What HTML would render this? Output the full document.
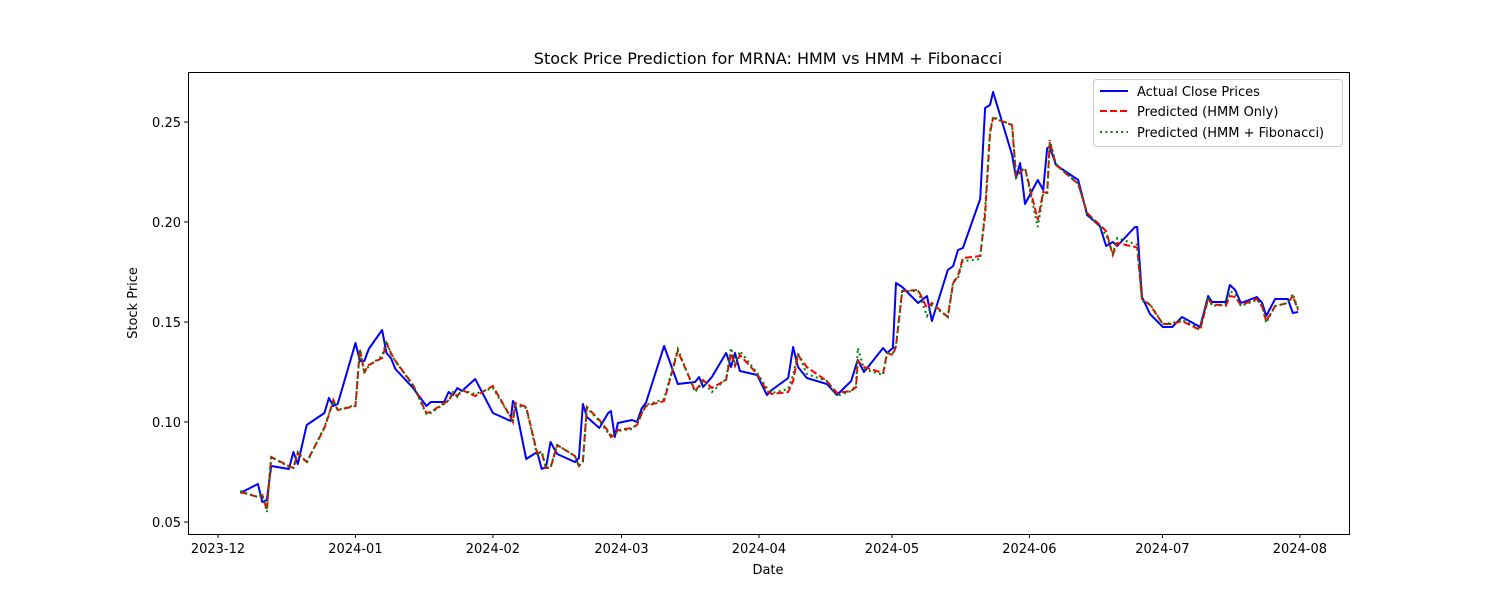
<!DOCTYPE html>
<html><head><meta charset="utf-8"><style>
body{margin:0;background:#fff;font-family:"DejaVu Sans","Liberation Sans",sans-serif}
svg text{font-family:"DejaVu Sans","Liberation Sans",sans-serif;fill:#000}
</style></head><body>
<svg id="chart" width="1500" height="600" xmlns="http://www.w3.org/2000/svg">
<rect width="1500" height="600" fill="#fff"/>
<text x="768" y="64" font-size="16" text-anchor="middle">Stock Price Prediction for MRNA: HMM vs HMM + Fibonacci</text>
<g id="plot"></g>
<rect x="188.5" y="72.5" width="1161" height="462" fill="none" stroke="#000" stroke-width="1"/>
<text x="768" y="574" font-size="13" text-anchor="middle">Date</text>
<text transform="translate(137,303) rotate(-90)" font-size="13" text-anchor="middle">Stock Price</text>
<g>
<rect x="1093.5" y="79.5" width="249" height="67" rx="3" fill="#fff" fill-opacity="0.8" stroke="#ccc"/>
<line x1="1100" y1="91" x2="1128" y2="91" stroke="#0000ff" stroke-width="2"/>
<text x="1137" y="96" font-size="13">Actual Close Prices</text>
<line x1="1100" y1="111" x2="1128" y2="111" stroke="#ff0000" stroke-width="2" stroke-dasharray="7,3"/>
<text x="1137" y="116" font-size="13">Predicted (HMM Only)</text>
<line x1="1100" y1="132" x2="1128" y2="132" stroke="#008000" stroke-width="2" stroke-dasharray="2,3.3"/>
<text x="1137" y="137" font-size="13">Predicted (HMM + Fibonacci)</text>
</g>
</svg>
<script>
// days since 2023-12-01
const days=[5,9,10,11,12,16,17,18,20,24,25,26,27,31,32,33,34,37,38,39,40,44,47,48,51,52,53,54,55,58,62,66,66.5,67,69.5,72,73,74,75,76.5,80.5,81.4,82.3,83.2,86,88,88.6,89.5,90.2,93.4,94.5,95.6,96.5,100.6,103.7,107.6,108.5,109.4,111.4,114.6,115.7,116.6,117.7,121.6,123.8,124.9,128.6,129.7,130.8,132.8,137.3,139.6,142.8,143.9,144.3,145.7,150,150.9,152.2,152.9,154.3,157.9,159.9,161,164.6,165.8,166.9,168,171.9,173,174.1,174.8,179.1,180,180.9,182,184.9,186.1,187,187.6,189,194,196,198.9,200.3,201.8,202.8,206.8,207.3,208.4,210.2,213.1,215.2,217.4,221.5,223.3,224.2,227.3,228.2,229.4,230.7,234.3,235.5,236.4,238.4,241.3,242.4,243.6];
const actual=[0.0645,0.069,0.060,0.061,0.078,0.0765,0.085,0.079,0.0985,0.1045,0.112,0.108,0.109,0.1395,0.1305,0.1305,0.1365,0.146,0.1345,0.132,0.1265,0.117,0.108,0.110,0.110,0.115,0.1135,0.117,0.1155,0.1215,0.1045,0.1005,0.1105,0.109,0.0815,0.085,0.0765,0.0775,0.090,0.084,0.080,0.082,0.109,0.1025,0.097,0.1045,0.1055,0.0925,0.0995,0.101,0.100,0.107,0.1095,0.138,0.119,0.120,0.1225,0.1175,0.1225,0.1345,0.1275,0.1345,0.1255,0.1235,0.1135,0.116,0.122,0.1375,0.1275,0.122,0.119,0.1135,0.1205,0.1285,0.131,0.125,0.137,0.1345,0.137,0.1695,0.1675,0.1595,0.163,0.1505,0.176,0.178,0.186,0.187,0.2115,0.257,0.2585,0.265,0.2335,0.222,0.2295,0.209,0.221,0.216,0.237,0.2375,0.2285,0.221,0.2035,0.198,0.188,0.190,0.188,0.1975,0.1975,0.1625,0.154,0.1475,0.1475,0.1525,0.1475,0.163,0.160,0.160,0.1685,0.166,0.1595,0.1625,0.1595,0.153,0.1615,0.1615,0.1545,0.155];
const hmm=[0.065,0.0625,0.0635,0.056,0.0825,0.078,0.077,0.0845,0.080,0.097,0.1035,0.111,0.106,0.108,0.1365,0.125,0.1285,0.132,0.1395,0.1345,0.1305,0.1185,0.1045,0.105,0.1095,0.1105,0.1145,0.113,0.116,0.113,0.118,0.1025,0.100,0.1095,0.1075,0.0845,0.0845,0.077,0.077,0.0885,0.083,0.078,0.0805,0.1075,0.101,0.0955,0.0925,0.0935,0.096,0.097,0.0985,0.1045,0.108,0.1105,0.1355,0.1155,0.118,0.121,0.117,0.121,0.1345,0.128,0.1335,0.124,0.1155,0.114,0.115,0.1205,0.1335,0.1275,0.1205,0.1145,0.1155,0.1175,0.1305,0.1275,0.1245,0.1345,0.1335,0.138,0.1655,0.166,0.157,0.1595,0.1525,0.1695,0.173,0.182,0.183,0.2035,0.2445,0.252,0.2485,0.2225,0.225,0.227,0.201,0.215,0.2145,0.24,0.2285,0.219,0.2045,0.1985,0.1955,0.1835,0.1895,0.1875,0.187,0.1615,0.1585,0.149,0.149,0.1505,0.146,0.1615,0.159,0.158,0.163,0.1625,0.1585,0.1615,0.1575,0.1505,0.158,0.1595,0.163,0.156];
const fib=[0.0655,0.0625,0.064,0.055,0.0825,0.0775,0.077,0.085,0.0795,0.0975,0.104,0.1105,0.106,0.1085,0.136,0.1245,0.128,0.133,0.1405,0.134,0.1305,0.118,0.104,0.1045,0.109,0.111,0.115,0.1125,0.116,0.114,0.117,0.1025,0.0995,0.1085,0.107,0.0835,0.0855,0.077,0.0775,0.0885,0.083,0.078,0.080,0.107,0.1005,0.0945,0.0935,0.094,0.0955,0.0965,0.099,0.1045,0.1085,0.1115,0.1365,0.115,0.1175,0.1205,0.115,0.1215,0.137,0.1285,0.1355,0.1245,0.117,0.1145,0.1165,0.1235,0.1345,0.124,0.1205,0.113,0.1155,0.1185,0.137,0.1265,0.1235,0.1345,0.1345,0.1385,0.1655,0.1655,0.153,0.1585,0.1525,0.1705,0.172,0.1805,0.1815,0.2065,0.2455,0.2525,0.2485,0.2225,0.2255,0.227,0.1975,0.214,0.2145,0.241,0.229,0.219,0.2045,0.1975,0.1935,0.1845,0.192,0.189,0.1885,0.1605,0.159,0.149,0.1495,0.151,0.1465,0.1625,0.158,0.159,0.1655,0.164,0.158,0.161,0.1585,0.1495,0.158,0.1595,0.164,0.1565];
const xTickLabels=["2023-12","2024-01","2024-02","2024-03","2024-04","2024-05","2024-06","2024-07","2024-08"];
const xTickDays=[0,31,62,91,122,152,183,213,244];
const yTicks=[0.05,0.10,0.15,0.20,0.25];

const NS="http://www.w3.org/2000/svg";
const xS=d=>218+d*4.434;
const yS=v=>522-(v-0.05)*2000;
const g=document.getElementById('plot');
function mk(tag,attrs){const e=document.createElementNS(NS,tag);for(const k in attrs)e.setAttribute(k,attrs[k]);g.appendChild(e);return e;}
xTickDays.forEach((d,i)=>{
  const x=xS(d);
  const t=mk('line',{x1:x,y1:534,x2:x,y2:538,stroke:'#000'});
  
  
  const l=mk('text',{x:x,y:553,'font-size':13,'text-anchor':'middle'});
  l.textContent=xTickLabels[i];
  
  
});
yTicks.forEach(v=>{
  const y=yS(v);
  const t=mk('line',{x1:184,y1:y,x2:188,y2:y,stroke:'#000'});
  
  
  const l=mk('text',{x:181,y:y+5,'font-size':13,'text-anchor':'end'});
  l.textContent=v.toFixed(2);
  
  
});
function pts(arr){return arr.map((v,i)=>xS(days[i]).toFixed(1)+','+yS(v).toFixed(1)).join(' ');}
const la=mk('polyline',{points:pts(actual),fill:'none',stroke:'#0000ff','stroke-width':2,'stroke-linejoin':'round'});


const lh=mk('polyline',{points:pts(hmm),fill:'none',stroke:'#ff0000','stroke-width':2,'stroke-dasharray':'7,3'});


const lf=mk('polyline',{points:pts(fib),fill:'none',stroke:'#008000','stroke-width':2,'stroke-dasharray':'2,3.3'});


</script>
</body></html>
